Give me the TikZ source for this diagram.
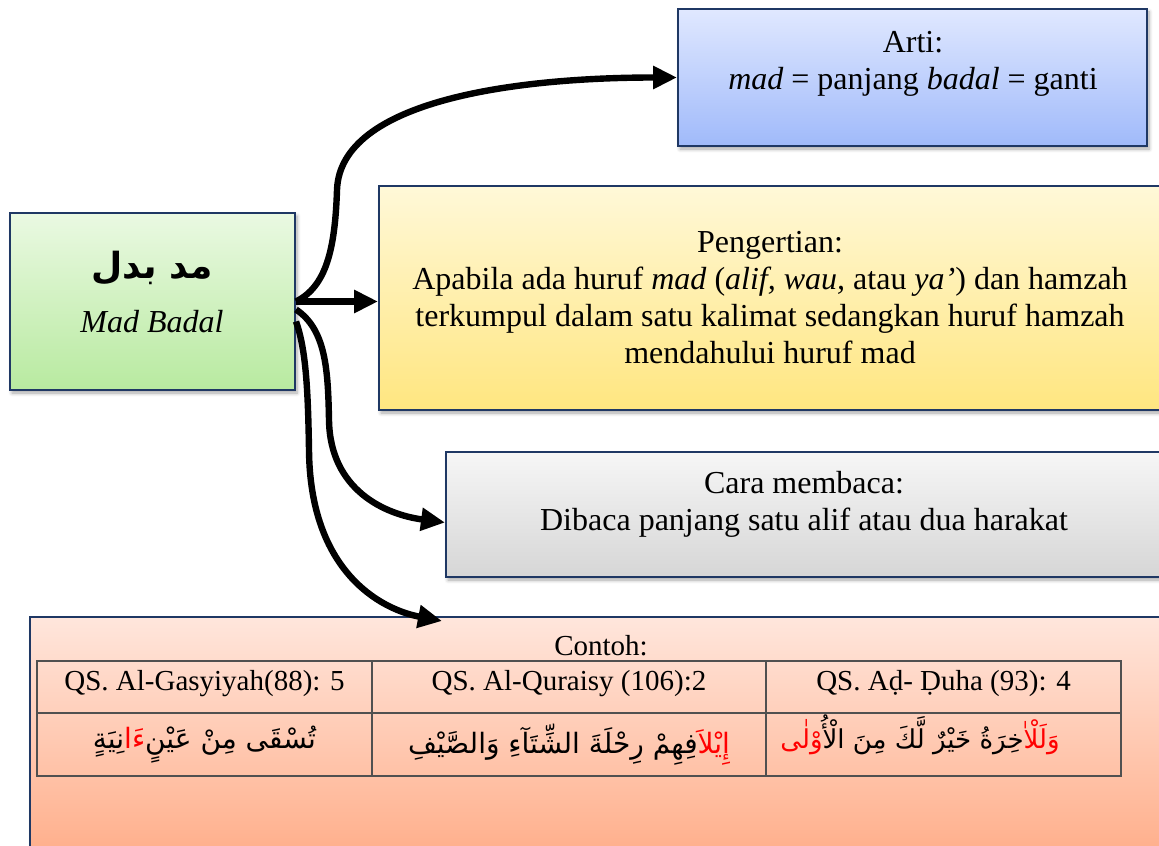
\documentclass[tikz,border=0pt]{standalone}
\usepackage{fontspec}
\setmainfont{Liberation Serif}
\newfontfamily\arabicfont[Script=Arabic]{DejaVu Sans}
\TeXXeTstate=1
\usepackage{xcolor}
\usepackage{tikz}
\usetikzlibrary{arrows.meta,positioning,calc,shadows.blur}
\definecolor{frameB}{HTML}{1F3864}
\definecolor{greenT}{RGB}{234,249,226}
\definecolor{greenB}{RGB}{184,234,160}
\definecolor{blueT}{RGB}{224,232,255}
\definecolor{blueB}{RGB}{160,186,250}
\definecolor{yellowT}{RGB}{255,248,216}
\definecolor{yellowB}{RGB}{255,230,128}
\definecolor{greyT}{RGB}{246,246,246}
\definecolor{greyB}{RGB}{214,214,214}
\definecolor{salmonT}{RGB}{255,230,220}
\definecolor{salmonB}{RGB}{255,174,138}
\definecolor{gridC}{RGB}{80,80,80}

\begin{document}
\begin{tikzpicture}[x=0.5pt,y=-0.5pt,
  font=\fontsize{16}{18.5}\selectfont,
  every node/.style={align=center},
  box/.style={draw=frameB,line width=1pt,inner sep=0pt,
    blur shadow={shadow xshift=1pt,shadow yshift=-1.5pt,
                 shadow blur steps=6,shadow opacity=35}},
  link/.style={line width=3.2pt,-{Triangle[length=12pt,width=11pt]}},
  cell/.style={font=\fontsize{14.5}{17}\selectfont},
  ayat/.style={font=\arabicfont\fontsize{14}{17}\selectfont},
  grid/.style={draw=gridC,line width=0.8pt}
]
\useasboundingbox (0,0) rectangle (1159,845);
\clip (0,0) rectangle (1159,845);

% Boxes
\node[box,top color=greenT,bottom color=greenB,
  minimum width=142.5pt,minimum height=88.5pt] (mad) at (152.5,301.5) {};
\node[box,top color=blueT,bottom color=blueB,
  minimum width=234.5pt,minimum height=68.5pt] (arti) at (912.5,77.5) {};
\node[box,top color=yellowT,bottom color=yellowB,
  minimum width=391pt,minimum height=112pt] (pengertian) at (770,298)
  {Pengertian:\\Apabila ada huruf \textit{mad} (\textit{alif, wau,} atau \textit{ya’}) dan hamzah\\
   terkumpul dalam satu kalimat sedangkan huruf hamzah\\mendahului huruf mad};
\node[box,top color=greyT,bottom color=greyB,
  minimum width=358pt,minimum height=62.5pt] (cara) at (804,514.5) {};
\node[box,top color=salmonT,bottom color=salmonB,
  minimum width=580pt,minimum height=120pt] (contoh) at (610,737) {};

% Texts
\node (madAr) at (152,268) {\arabicfont\bfseries\fontsize{18}{22}\selectfont\beginR مد بدل\endR};
\node (madLat) at (152,322) {\itshape Mad Badal};
\node (artiTxt) at (913,64) {Arti:\\\textit{mad} = panjang \textit{badal} = ganti};
\node (caraTxt) at (804,504) {Cara membaca:\\Dibaca panjang satu alif atau dua harakat};
\node[cell] (contohTxt) at (601,646) {Contoh:};

% Table
\draw[grid] (37,661) rectangle (1121,776);
\draw[grid] (37,713) -- (1121,713);
\foreach \x in {372,766}
  \draw[grid] (\x,661) -- (\x,776);
\node[cell] (qs1) at (204.5,684) {QS. Al-Gasyiyah(88): 5};
\node[cell] (qs2) at (569,684) {QS. Al-Quraisy (106):2};
\node[cell] (qs3) at (943.5,684) {QS. Aḍ- Ḍuha (93): 4};
\node[ayat] (ayat1) at (204.5,745)
  {\beginR نِيَةٍ\endR{\color{red}\beginR ءَا\endR}\beginR تُسْقَى مِنْ عَيْنٍ\endR};
\node[ayat] (ayat2) at (569,745)
  {\beginR فِهِمْ رِحْلَةَ الشِّتَآءِ وَالصَّيْفِ\endR{\color{red}\beginR إِيْلاَ\endR}};
\node[ayat,font=\arabicfont\fontsize{13}{16}\selectfont] (ayat3) at (920,735)
  {{\color{red}\beginR وْلٰى\endR}\beginR خِرَةُ خَيْرٌ لَّكَ مِنَ الْأُ\endR{\color{red}\beginR وَلَلْاٰ\endR}};

% Arrows
\draw[link] (mad.east) .. controls +(30,-15) and +(-2,60) .. (337,190)
  .. controls +(3,-90) and +(-160,0) .. (arti.west);
\draw[link] (mad.east) -- (mad.east -| pengertian.west);
\draw[link] ($(mad.east)+(0,8)$) .. controls +(30,20) and +(-1,-50) .. (329,420)
  .. controls +(1,70) and +(-60,-8) .. ($(cara.west)+(0,8)$);
\draw[link] ($(mad.east)+(0,20)$) .. controls +(10,28) and +(-1,-60) .. (309,450)
  .. controls +(1,120) and +(-63,-12) .. ($(contoh.north west)+(413,5)$);
\end{tikzpicture}
\end{document}
